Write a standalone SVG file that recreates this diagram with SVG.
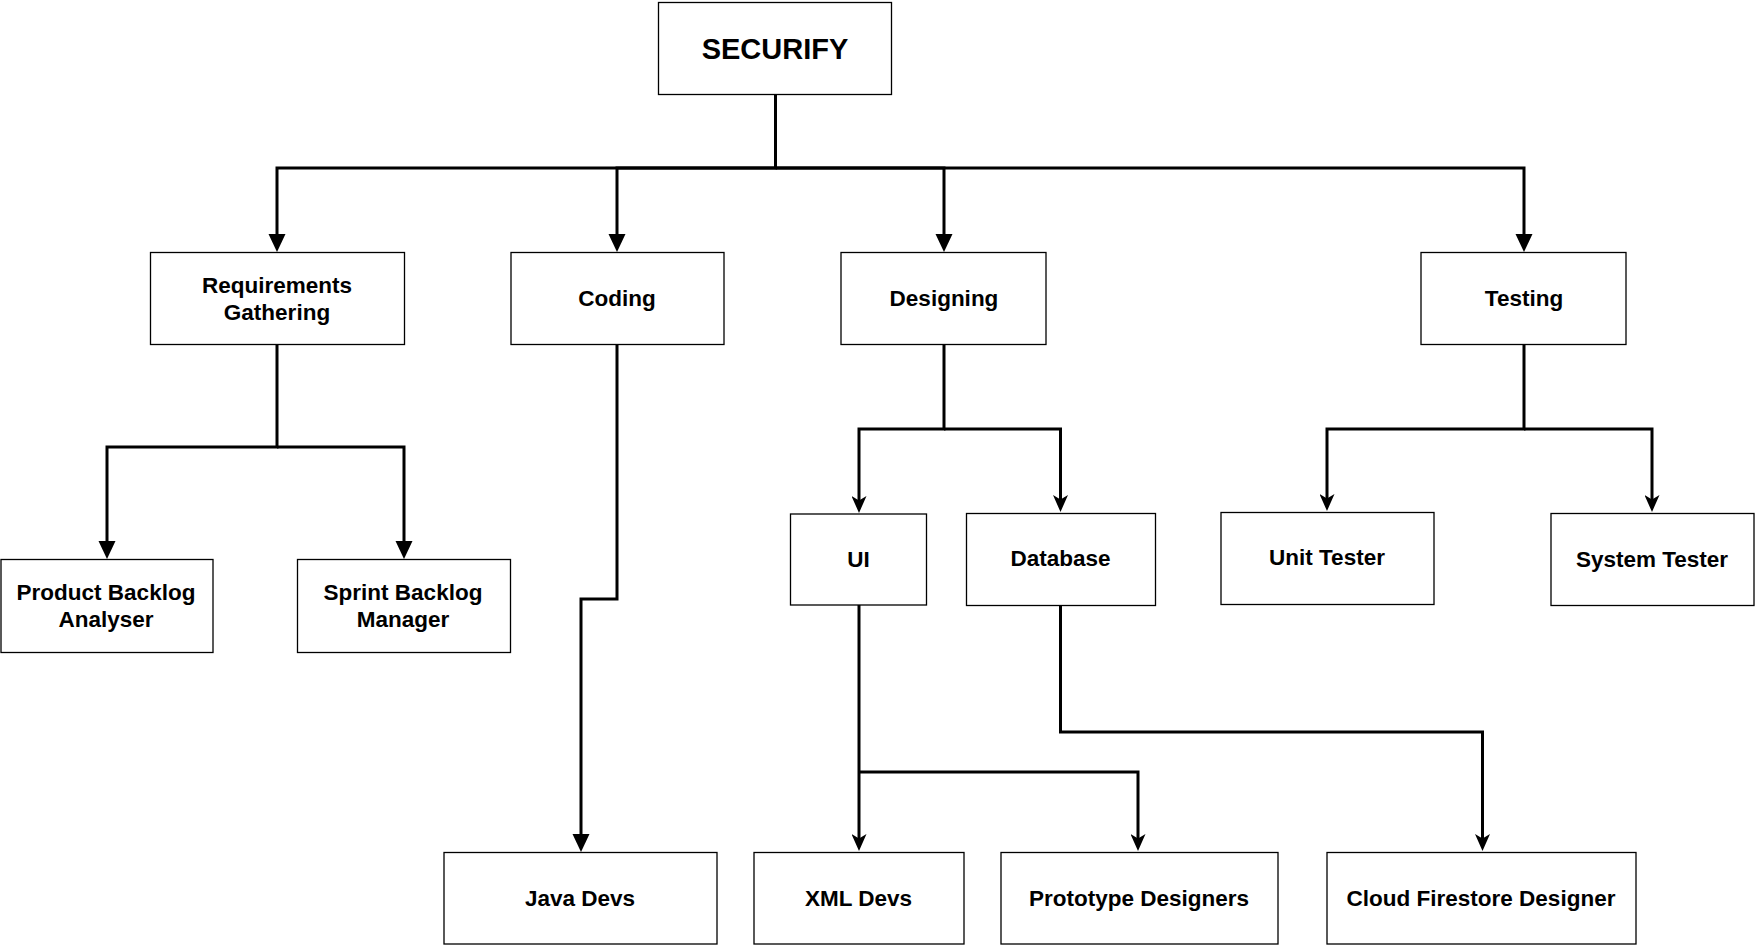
<svg xmlns="http://www.w3.org/2000/svg" width="1755" height="945" viewBox="0 0 1755 945">
<defs>
<style>
.box{fill:#fff;stroke:#000;stroke-width:1.3}
.t{font-family:"Liberation Sans",Arial,sans-serif;font-weight:bold;font-size:22.5px;text-anchor:middle;fill:#000}
.title{font-size:29px}
.c{fill:none;stroke:#000;stroke-width:3}
.big{marker-end:url(#block)}
.sm{marker-end:url(#classic)}
</style>
<marker id="block" viewBox="0 0 18 18" markerWidth="18" markerHeight="18" refX="10" refY="9" orient="auto" markerUnits="userSpaceOnUse">
<path d="M0,0.5 L18,9 L0,17.5 Z" fill="#000"/>
</marker>
<marker id="classic" viewBox="0 0 17 15" markerWidth="17" markerHeight="15" refX="9" refY="7.5" orient="auto" markerUnits="userSpaceOnUse">
<path d="M0,0 L17,7.5 L0,15 L4.5,7.5 Z" fill="#000"/>
</marker>
</defs>
<rect width="1755" height="945" fill="#fff"/>
<g id="connectors">
<path class="c big" d="M775.5,94 V168 H277 V244"/>
<path class="c big" d="M775.5,168 H617 V244"/>
<path class="c big" d="M775.5,168 H944 V244"/>
<path class="c big" d="M775.5,168 H1524 V244"/>
<path class="c big" d="M277,344 V447 H107 V551"/>
<path class="c big" d="M277,447 H404 V551"/>
<path class="c big" d="M617,344 V599 H581 V844"/>
<path class="c sm" d="M944,344 V429 H859 V505"/>
<path class="c sm" d="M944,429 H1060.5 V504"/>
<path class="c sm" d="M1524,344 V429 H1327 V503"/>
<path class="c sm" d="M1524,429 H1652 V504"/>
<path class="c sm" d="M859,605 V843"/>
<path class="c sm" d="M859,772 H1138 V843"/>
<path class="c sm" d="M1060.5,605 V732 H1482.5 V843"/>
</g>
<g id="securify"><rect class="box" x="658.5" y="2.5" width="233" height="92"/><text class="t title" x="775" y="59">SECURIFY</text></g>
<g id="requirements"><rect class="box" x="150.5" y="252.5" width="254" height="92"/><text class="t" x="277" y="293">Requirements</text><text class="t" x="277" y="320">Gathering</text></g>
<g id="coding"><rect class="box" x="511" y="252.5" width="213" height="92"/><text class="t" x="617" y="306">Coding</text></g>
<g id="designing"><rect class="box" x="841" y="252.5" width="205" height="92"/><text class="t" x="944" y="306">Designing</text></g>
<g id="testing"><rect class="box" x="1421" y="252.5" width="205" height="92"/><text class="t" x="1524" y="306">Testing</text></g>
<g id="product-backlog"><rect class="box" x="1" y="559.5" width="212" height="93"/><text class="t" x="106" y="600">Product Backlog</text><text class="t" x="106" y="627">Analyser</text></g>
<g id="sprint-backlog"><rect class="box" x="297.5" y="559.5" width="213" height="93"/><text class="t" x="403" y="600">Sprint Backlog</text><text class="t" x="403" y="627">Manager</text></g>
<g id="ui"><rect class="box" x="790.5" y="514" width="136" height="91"/><text class="t" x="858.5" y="567">UI</text></g>
<g id="database"><rect class="box" x="966.5" y="513.5" width="189" height="92"/><text class="t" x="1060.5" y="566">Database</text></g>
<g id="unit-tester"><rect class="box" x="1221" y="512.5" width="213" height="92"/><text class="t" x="1327" y="565">Unit Tester</text></g>
<g id="system-tester"><rect class="box" x="1551" y="513.5" width="203" height="92"/><text class="t" x="1652" y="566.5">System Tester</text></g>
<g id="java-devs"><rect class="box" x="444" y="852.5" width="273" height="91.5"/><text class="t" x="580" y="906">Java Devs</text></g>
<g id="xml-devs"><rect class="box" x="754" y="852.5" width="210" height="91.5"/><text class="t" x="858.5" y="906">XML Devs</text></g>
<g id="prototype-designers"><rect class="box" x="1001" y="852.5" width="277" height="91.5"/><text class="t" x="1139" y="906">Prototype Designers</text></g>
<g id="cloud-firestore"><rect class="box" x="1327" y="852.5" width="309" height="91.5"/><text class="t" x="1481" y="906">Cloud Firestore Designer</text></g>
</svg>
